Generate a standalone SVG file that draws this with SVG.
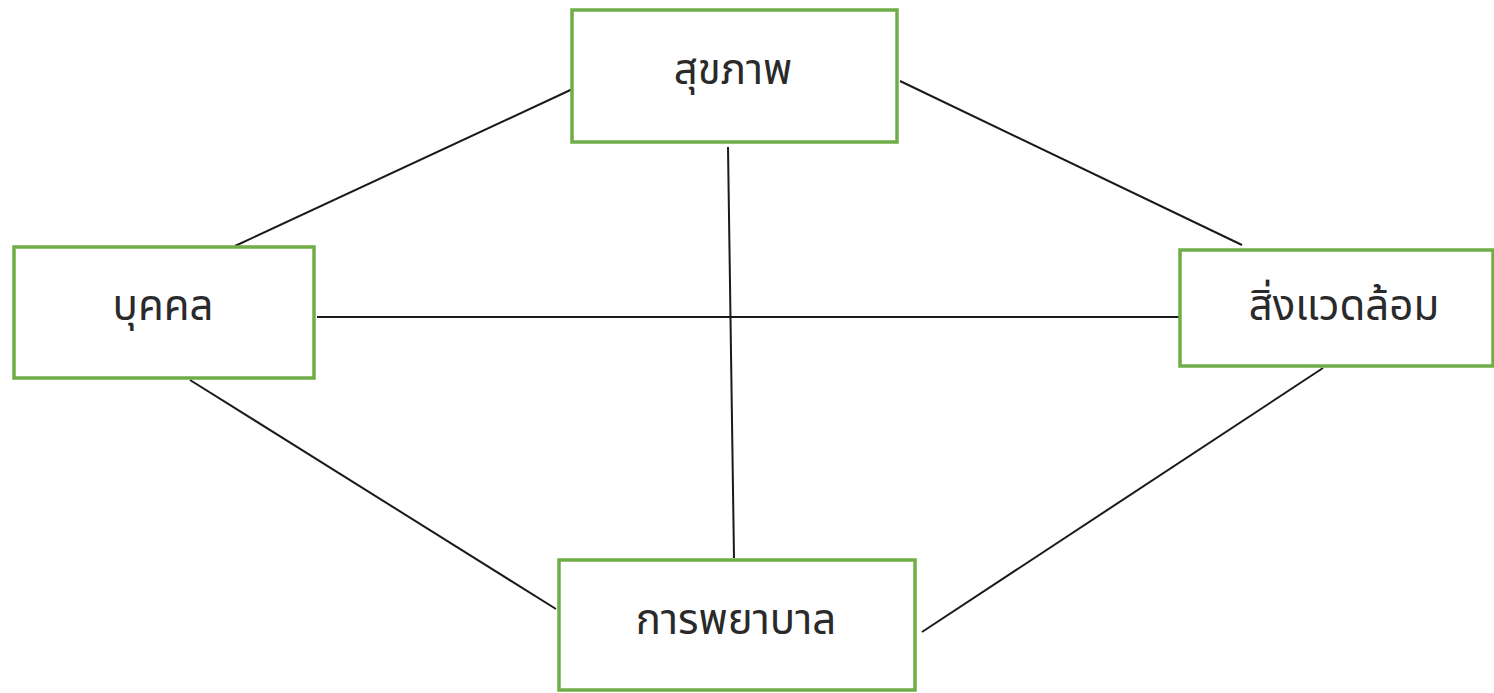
<svg xmlns="http://www.w3.org/2000/svg" width="1494" height="693" viewBox="0 0 1494 693">
<style>
.box{fill:#fff;stroke:#70AD47;stroke-width:3.5}
.lbl{font-family:"Noto Sans Thai","Liberation Sans","DejaVu Sans",sans-serif;font-size:42px;fill:#2a2a2a;text-anchor:middle}
.con{stroke:#1a1a1a;stroke-width:2;fill:none}
</style>
<rect width="1494" height="693" fill="#fff"/>
<g id="connectors">
<line class="con" x1="579" y1="86" x2="235" y2="246"/>
<line class="con" x1="900" y1="81" x2="1242" y2="245"/>
<line class="con" x1="728" y1="147" x2="734" y2="558"/>
<line class="con" x1="317" y1="317" x2="1180" y2="317"/>
<line class="con" x1="190" y1="380" x2="556" y2="609"/>
<line class="con" x1="922" y1="632" x2="1323" y2="368"/>
</g>
<g id="health"><rect class="box" x="572" y="10" width="325" height="132"/><text class="lbl" x="733" y="84">สุขภาพ</text></g>
<g id="person"><rect class="box" x="14" y="247" width="300" height="131"/><text class="lbl" x="163" y="320">บุคคล</text></g>
<g id="environment"><rect class="box" x="1180" y="250" width="313" height="116"/><text class="lbl" x="1344" y="320">สิ่งแวดล้อม</text></g>
<g id="nursing"><rect class="box" x="559" y="560" width="356" height="130"/><text class="lbl" x="736" y="634">การพยาบาล</text></g>
</svg>
